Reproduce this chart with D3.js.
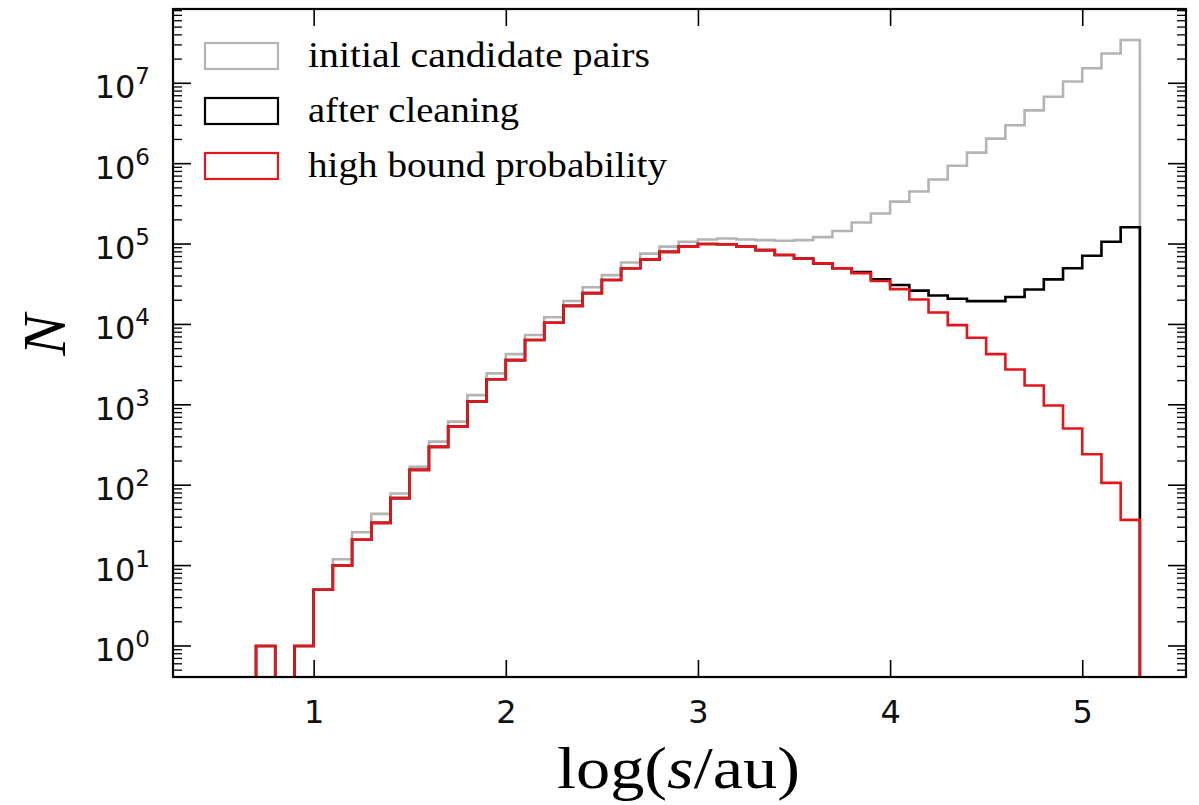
<!DOCTYPE html>
<html>
  <head>
    <meta http-equiv="Content-Type" content="text/html;charset=utf-8">
    <title>Separation histogram</title>
    <script src="https://cdn.jsdelivr.net/npm/d3@7"></script>
    <style type="text/css">
body {
    margin: 0;
    background: #fff;
}
.tick-label {
    font-family: "DejaVu Sans", sans-serif;
    font-size: 32px;
    fill: #111;
}
.serif {
    font-family: "Liberation Serif", "DejaVu Serif", serif;
    fill: #000;
}
    </style>
  </head>
  <body>
    <script type="text/javascript">
// bins of log(s/au), width 0.1, left edges
var binStart = 0.7,
    binWidth = 0.1;

var initialPairs = [1, 0, 1, 5, 12, 26, 44, 79, 170, 348,
    617, 1320, 2460, 4270, 7400, 12300, 19600, 29000, 41000, 59000,
    76000, 93000, 107000, 114000, 117000, 114000, 112000, 110000, 112000, 122000,
    145000, 185000, 240000, 337000, 450000, 635000, 940000, 1370000, 2050000, 3000000,
    4600000, 6800000, 10500000, 15400000, 23500000, 34500000];

var afterCleaning = [1, 0, 1, 5, 10, 21, 34, 69, 155, 300,
    535, 1100, 2080, 3600, 6400, 10500, 17000, 24500, 35700, 50000,
    64500, 80000, 93000, 100000, 99500, 93000, 84000, 73000, 66000, 57500,
    50000, 44700, 36300, 31000, 26300, 22900, 20900, 19500, 19500, 21900,
    27200, 36300, 50000, 71600, 107000, 162000];

var highBound = [1, 0, 1, 5, 10, 21, 34, 69, 155, 300,
    535, 1100, 2080, 3600, 6400, 10500, 17000, 24500, 35700, 50000,
    64500, 80000, 93000, 100000, 99500, 93000, 84000, 73000, 66000, 57500,
    50000, 43500, 34700, 27500, 20400, 14100, 9800, 6840, 4270, 2750,
    1740, 980, 507, 243, 107, 37];

var seriesNames = ['initial candidate pairs', 'after cleaning', 'high bound probability'],
    seriesColors = ['#b4b4b4', '#000000', '#e4161c'];

var xTicks = [1, 2, 3, 4, 5],
    yTicks = [1, 10, 100, 1e3, 1e4, 1e5, 1e6, 1e7];

// chart
var W = 1199, H = 805,
    m = {left: 173, top: 9},
    w = 1013,
    h = 668;

var x = d3.scaleLinear().domain([0.268, 5.54]).range([0, w]);
var y = d3.scaleLog().domain([Math.pow(10, -0.386), Math.pow(10, 7.924)]).range([h, 0]);

var svg = d3.select('body').append('svg')
    .attr('width', W)
    .attr('height', H);

svg.append('defs').append('clipPath')
    .attr('id', 'clip')
  .append('rect')
    .attr('width', w)
    .attr('height', h);

var chart = svg.append('g')
    .attr('transform', 'translate(' + m.left + ',' + m.top + ')');

// step outline like histtype='step'
function stepPath(vals) {
    var yv = function(v) { return v > 0 ? y(v) : h + 10; };
    var p = d3.path();
    p.moveTo(x(binStart), h + 10);
    vals.forEach(function(v, i) {
        var x0 = x(binStart + i * binWidth),
            x1 = x(binStart + (i + 1) * binWidth);
        p.lineTo(x0, yv(v));
        p.lineTo(x1, yv(v));
    });
    p.lineTo(x(binStart + vals.length * binWidth), h + 10);
    return p.toString();
}

var plot = chart.append('g').attr('clip-path', 'url(#clip)');
[initialPairs, afterCleaning, highBound].forEach(function(vals, i) {
    plot.append('path')
        .attr('d', stepPath(vals))
        .attr('fill', 'none')
        .attr('stroke', seriesColors[i])
        .attr('stroke-width', 2.6)
        .attr('stroke-linejoin', 'miter');
});

// minor ticks on log axis
var minor = [];
d3.range(-1, 8).forEach(function(e) {
    d3.range(2, 10).forEach(function(k) {
        var v = k * Math.pow(10, e);
        if (v > y.domain()[0] && v < y.domain()[1]) minor.push(v);
    });
});

var tickColor = '#000';
function yTickLines(x0, dir) {
    chart.selectAll(null)
        .data(yTicks)
      .enter().append('line')
        .attr('x1', x0).attr('x2', x0 + dir * 18)
        .attr('y1', function(d) { return y(d); })
        .attr('y2', function(d) { return y(d); })
        .attr('stroke', tickColor).attr('stroke-width', 1.6);
    chart.selectAll(null)
        .data(minor)
      .enter().append('line')
        .attr('x1', x0).attr('x2', x0 + dir * 9)
        .attr('y1', function(d) { return y(d); })
        .attr('y2', function(d) { return y(d); })
        .attr('stroke', tickColor).attr('stroke-width', 1.3);
}
yTickLines(0, 1);
yTickLines(w, -1);

// x axes, ticks pointing inward
chart.append('g')
    .attr('transform', 'translate(0,' + h + ')')
    .call(d3.axisBottom(x).tickValues(xTicks).tickSize(-17).tickPadding(23).tickFormat(d3.format('d')))
    .call(function(g) {
        g.select('.domain').remove();
        g.selectAll('line').attr('stroke-width', 1.6);
        g.selectAll('text').attr('class', 'tick-label').attr('font-family', null).attr('font-size', null);
    });

chart.append('g')
    .call(d3.axisTop(x).tickValues(xTicks).tickSize(-17).tickFormat(''))
    .call(function(g) {
        g.select('.domain').remove();
        g.selectAll('line').attr('stroke-width', 1.6);
    });

// y tick labels 10^n
var yl = chart.selectAll('text.ylab')
    .data(yTicks)
  .enter().append('text')
    .attr('class', 'tick-label')
    .attr('text-anchor', 'end')
    .attr('x', -23)
    .attr('y', function(d) { return y(d) + 15; });
yl.append('tspan').text('10');
yl.append('tspan')
    .attr('dy', -14)
    .attr('font-size', 23)
    .text(function(d) { return Math.round(Math.log10(d)); });

// frame
chart.append('rect')
    .attr('width', w)
    .attr('height', h)
    .attr('fill', 'none')
    .attr('stroke', '#000')
    .attr('stroke-width', 2.2);

// axis labels
var xl = svg.append('text')
    .attr('class', 'serif')
    .attr('x', 557)
    .attr('y', 788)
    .attr('font-size', 60)
    .attr('textLength', 243)
    .attr('lengthAdjust', 'spacingAndGlyphs');
xl.append('tspan').text('log(');
xl.append('tspan').attr('font-style', 'italic').text('s');
xl.append('tspan').text('/au)');

svg.append('text')
    .attr('class', 'serif')
    .attr('transform', 'translate(65,335) rotate(-90)')
    .attr('text-anchor', 'middle')
    .attr('font-size', 62)
    .attr('font-style', 'italic')
    .text('N');

// legend
var legendWidths = [342, 211, 359];
var legend = svg.append('g')
    .attr('transform', 'translate(205,43)');
var items = legend.selectAll('g')
    .data(seriesNames)
  .enter().append('g')
    .attr('transform', function(d, i) { return 'translate(0,' + (i * 55) + ')'; });
items.append('rect')
    .attr('width', 73)
    .attr('height', 26)
    .attr('fill', 'none')
    .attr('stroke-width', 2.2)
    .attr('stroke', function(d, i) { return seriesColors[i]; });
items.append('text')
    .attr('class', 'serif')
    .attr('x', 103)
    .attr('y', 24)
    .attr('font-size', 36)
    .attr('textLength', function(d, i) { return legendWidths[i]; })
    .attr('lengthAdjust', 'spacingAndGlyphs')
    .text(function(d) { return d; });
    </script>
  </body>
</html>
